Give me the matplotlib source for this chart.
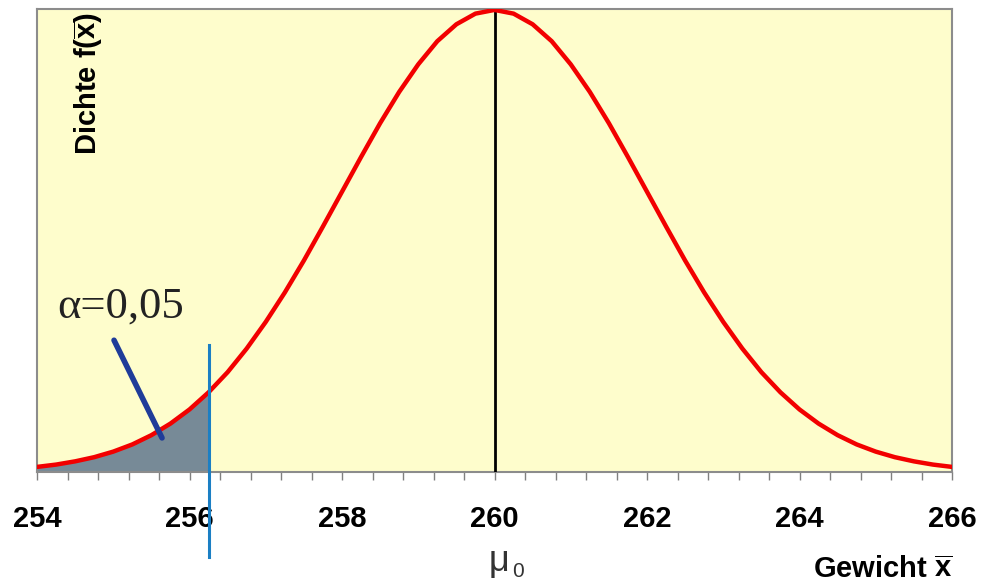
import numpy as np
import matplotlib.pyplot as plt
from matplotlib.ticker import MultipleLocator

plt.rcParams['font.family'] = ['Liberation Sans', 'DejaVu Sans']
plt.rcParams['mathtext.fontset'] = 'custom'
plt.rcParams['mathtext.rm'] = 'Liberation Sans'
plt.rcParams['mathtext.bf'] = 'Liberation Sans:bold'

# Dichte der Stichprobenmittel (Schritt 0.25)
gewicht = [254.0, 254.25, 254.5, 254.75, 255.0, 255.25, 255.5, 255.75, 256.0, 256.25,
           256.5, 256.75, 257.0, 257.25, 257.5, 257.75, 258.0, 258.25, 258.5, 258.75,
           259.0, 259.25, 259.5, 259.75, 260.0, 260.25, 260.5, 260.75, 261.0, 261.25,
           261.5, 261.75, 262.0, 262.25, 262.5, 262.75, 263.0, 263.25, 263.5, 263.75,
           264.0, 264.25, 264.5, 264.75, 265.0, 265.25, 265.5, 265.75, 266.0]
dichte = [0.0022, 0.0032, 0.0046, 0.0064, 0.0088, 0.0119, 0.0159, 0.0209, 0.0270, 0.0344,
          0.0431, 0.0533, 0.0648, 0.0775, 0.0913, 0.1060, 0.1210, 0.1360, 0.1506, 0.1641,
          0.1760, 0.1860, 0.1933, 0.1979, 0.1995, 0.1979, 0.1933, 0.1860, 0.1760, 0.1641,
          0.1506, 0.1360, 0.1210, 0.1060, 0.0913, 0.0775, 0.0648, 0.0533, 0.0431, 0.0344,
          0.0270, 0.0209, 0.0159, 0.0119, 0.0088, 0.0064, 0.0046, 0.0032, 0.0022]
mu0 = 260.0
krit = 256.26
alpha_text = 'α=0,05'
xticks = [254, 256, 258, 260, 262, 264, 266]

fig = plt.figure(figsize=(9.82, 5.84), dpi=100)
ax = fig.add_axes([37/982, 1 - 472/584, 915/982, 463/584])
ax.set_facecolor('#FEFDCC')

x = np.array(gewicht)
y = np.array(dichte)

# Ablehnungsbereich
m = x <= krit
xf = np.append(x[m], krit)
yf = np.append(y[m], np.interp(krit, x, y))
ax.fill_between(xf, 0, yf, color='#778A97', zorder=2)
ax.plot(x, y, color='#F20000', lw=3.2, zorder=4, solid_joinstyle='round')
ax.vlines(mu0, 0, max(dichte), color='black', lw=2, zorder=3)
ax.plot([krit, krit], [0.0547, -0.0366], color='#1B7FC4', lw=2.2, clip_on=False, zorder=5)

# Hinweislinie alpha
ax.plot([255.01, 255.64], [0.0569, 0.0147], color='#1F3C99', lw=4, solid_capstyle='round', zorder=5)
ax.text(254.26, 0.0665, alpha_text, family=['Liberation Serif'], fontsize=32,
        color='#222222', va='baseline', ha='left')

ax.set_xlim(254, 266)
ax.set_ylim(0, max(dichte) * 1.002)
ax.set_xticks(xticks)
ax.xaxis.set_minor_locator(MultipleLocator(0.4))
ax.set_yticks([])
ax.tick_params(axis='x', which='both', direction='out', length=6, width=1, color='#808080',
               pad=18, labelsize=21)
for lbl in ax.get_xticklabels():
    lbl.set_fontweight('bold')
for s in ax.spines.values():
    s.set_color('#8C8C8C')
    s.set_linewidth(1.5)

fig.text(88/982, 1 - 12/584, r'Dichte f($\mathbf{\overline{x}}$)', rotation=90, fontsize=21,
         fontweight='bold', ha='center', va='top')
fig.text(953/982, 6/584, r'Gewicht $\mathbf{\overline{x}}$', fontsize=21, fontweight='bold',
         ha='right', va='baseline')
fig.text(489/982, 1 - 571/584, 'μ', fontsize=26, color='#333333', ha='left', va='baseline')
fig.text(512/982, 1 - 577/584, '0', fontsize=15, color='#333333', ha='left', va='baseline')

fig.savefig('out.png', dpi=100)
